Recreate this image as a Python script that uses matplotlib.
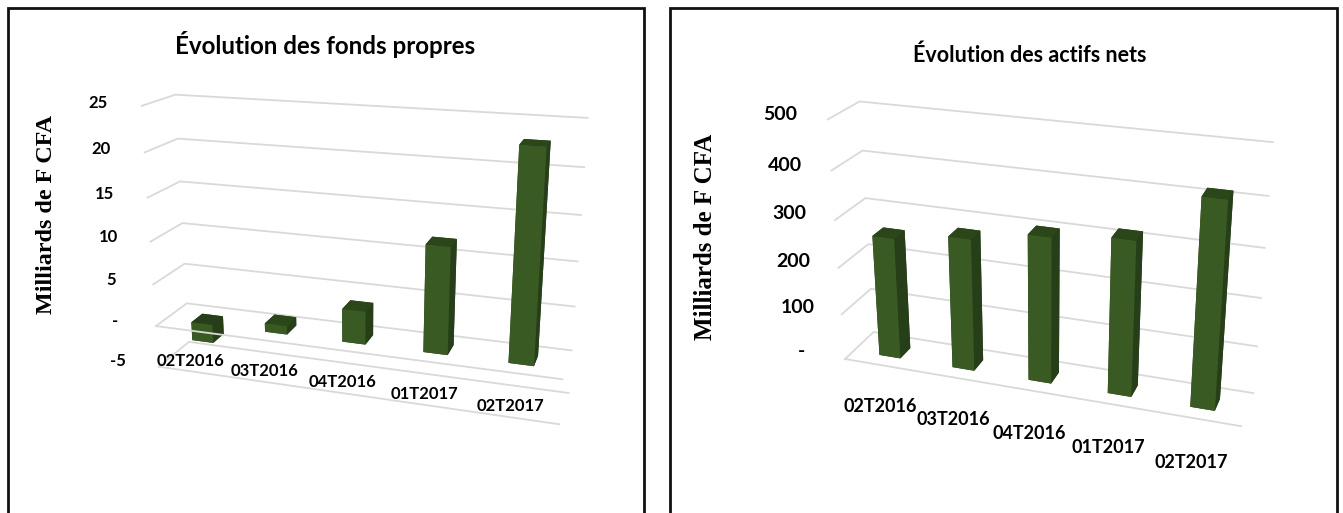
import matplotlib
matplotlib.use("Agg")
import matplotlib.pyplot as plt
from matplotlib.patches import Rectangle

W, H = 1343, 513

categories = ["02T2016", "03T2016", "04T2016", "01T2017", "02T2017"]

fonds_propres = [-2.2, 1.0, 3.8, 12.0, 23.0]
fonds_ticks = [-5, 0, 5, 10, 15, 20, 25]
fonds_labels = ["-5", "-", "5", "10", "15", "20", "25"]

actifs_nets = [260, 280, 305, 320, 418]
actifs_ticks = [0, 100, 200, 300, 400, 500]
actifs_labels = ["-", "100", "200", "300", "400", "500"]

FRONT = "#3a5a24"
SIDE = "#263f18"
TOP = "#2b4719"
GRID = "#d9d9d9"


def chart_3d(center, side, view, values, ticks, tick_labels, tick_x, cat_z, cat_size, tick_size, font, box, zoom, focal):
    cx, cy = center
    ax = fig.add_axes([(cx - side / 2) / W, 1 - (cy + side / 2) / H, side / W, side / H], projection="3d")
    ax.patch.set_alpha(0)
    ax.set_axis_off()
    ax.computed_zorder = False
    ax.set_proj_type("persp", focal_length=focal)
    ax.view_init(elev=view[0], azim=view[1], roll=view[2])
    ax.set_box_aspect(box, zoom=zoom)
    n = len(values)
    ax.set_xlim(0, n, view_margin=0)
    ax.set_ylim(0, 1, view_margin=0)
    ax.set_zlim(ticks[0], ticks[-1], view_margin=0)

    # side wall and back wall lines
    for t in ticks:
        ax.plot([0, 0, n], [0, 1, 1], [t, t, t], color=GRID, lw=1.3, zorder=1)

    # floor lines in front of the bars
    for t in ticks[:2] if ticks[0] < 0 else ticks[:1]:
        ax.plot([0, n], [0, 0], [t, t], color=GRID, lw=1.3, zorder=3)

    faces = [SIDE, TOP, FRONT, SIDE, SIDE, SIDE]
    for i, v in enumerate(values):
        ax.bar3d(i + 0.36, 0.3, 0, 0.29, 0.37, v, color=faces, shade=False, zorder=2)

    for t, lab in zip(ticks, tick_labels):
        ax.text(tick_x, 0, t, lab, ha="center", va="center", fontsize=tick_size, fontweight="bold", family=font)
    for i, lab in enumerate(categories):
        ax.text(i + 0.45, 0, cat_z, lab, ha="center", va="center", fontsize=cat_size, fontweight="bold", family=font)
    return ax


fig = plt.figure(figsize=(W / 100, H / 100), dpi=100)

# panel frames, open at the bottom of the picture
for x0, x1 in [(8, 644), (670, 1337)]:
    fig.add_artist(Rectangle((x0 / W, -0.05), (x1 - x0) / W, 1.05 - 8 / H, transform=fig.transFigure,
                             facecolor="none", edgecolor="#111111", lw=2))

chart_3d((351, 258), 500, (18, -72, 0), fonds_propres, fonds_ticks, fonds_labels, -0.58,
         -3.7, 12, 12, "Lato", (450, 75, 297), 1.0, 0.38)
chart_3d((1037, 265), 500, (23, -71, 0), actifs_nets, actifs_ticks, actifs_labels, -0.62,
         -95, 13, 14, "Lato", (430, 69, 268), 0.985, 0.45)

fig.text(325 / W, 1 - 45 / H, "Évolution des fonds propres", ha="center", va="center",
         fontsize=17.4, fontweight="bold", family="Lato")
fig.text(1030 / W, 1 - 55 / H, "Évolution des actifs nets", ha="center", va="center",
         fontsize=15.5, fontweight="bold", family="Lato")
fig.text(47 / W, 1 - 215 / H, "Milliards de F CFA", rotation=90, ha="center", va="center",
         fontsize=17.4, fontweight="bold", family="Liberation Serif")
fig.text(706 / W, 1 - 237 / H, "Milliards de F CFA", rotation=90, ha="center", va="center",
         fontsize=18, fontweight="bold", family="Liberation Serif")

fig.savefig("out.png", dpi=100)
